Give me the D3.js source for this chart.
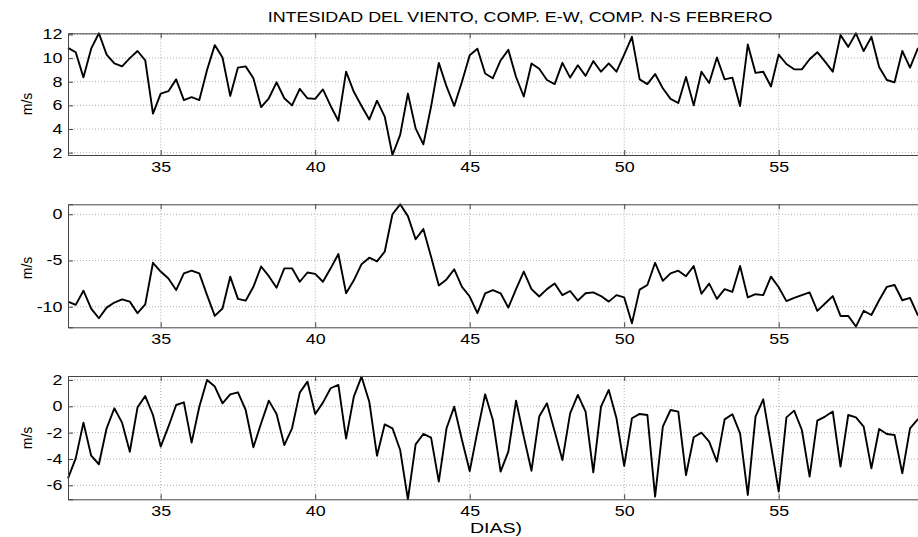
<!DOCTYPE html>
<html>
<head>
<meta charset="utf-8">
<script src="https://cdn.jsdelivr.net/npm/d3@7"></script>
<style>
  body { margin: 0; background: #fff; }
  svg { display: block; font-family: "Liberation Sans", Arial, sans-serif; }
  .grid line { stroke: #b0b0b0; stroke-dasharray: 1,2; }
</style>
</head>
<body>
<svg id="chart" width="918" height="537"></svg>
<script>
// 6-hourly samples from day 32
var t0 = 32, step = 0.25;
var intensidad = [10.87,10.5,8.37,10.8,12.1,10.3,9.55,9.3,10,10.6,9.8,5.3,7.0,7.2,8.2,6.45,6.7,6.45,9.0,11.1,
  10.05,6.8,9.2,9.3,8.3,5.85,6.6,7.95,6.6,6.0,7.4,6.6,6.55,7.35,5.95,4.7,8.85,7.15,5.95,4.8,
  6.4,5.05,1.8,3.5,7.0,4.05,2.7,5.9,9.6,7.6,5.95,8.0,10.25,10.8,8.7,8.3,9.8,10.7,8.4,6.75,
  9.55,9.1,8.15,7.8,9.6,8.35,9.4,8.5,9.75,8.85,9.55,8.85,10.3,11.8,8.2,7.8,8.65,7.45,6.55,6.2,
  8.4,6.0,8.85,7.9,10.05,8.2,8.35,5.95,11.15,8.75,8.85,7.6,10.3,9.5,9.05,9.05,9.9,10.5,9.7,8.85,
  11.95,10.95,12.1,10.6,11.8,9.25,8.15,7.95,10.6,9.2,10.8,11.0];
var compEW = [-9.45,-9.8,-8.27,-10.2,-11.25,-10.1,-9.55,-9.2,-9.45,-10.7,-9.75,-5.25,-6.2,-6.95,-8.2,-6.4,-6.1,-6.4,-8.75,-11.0,
  -10.2,-6.75,-9.15,-9.35,-7.85,-5.65,-6.7,-7.95,-5.85,-5.85,-7.3,-6.3,-6.45,-7.3,-5.85,-4.3,-8.55,-7.15,-5.4,-4.7,
  -5.1,-4.05,0,1.08,-0.2,-2.7,-1.6,-4.6,-7.7,-7.05,-5.95,-7.85,-8.9,-10.7,-8.55,-8.2,-8.55,-10.1,-8.1,-6.2,
  -8.1,-8.9,-8.1,-7.5,-8.75,-8.3,-9.35,-8.55,-8.45,-8.85,-9.45,-8.75,-9.0,-11.8,-8.15,-7.65,-5.25,-7.2,-6.4,-6.1,
  -6.7,-5.6,-8.6,-7.5,-9.15,-8.1,-8.4,-5.6,-9.0,-8.65,-8.75,-6.75,-7.9,-9.4,-9.05,-8.75,-8.45,-10.45,-9.65,-8.85,
  -11.0,-11.0,-12.15,-10.45,-10.9,-9.3,-7.85,-7.65,-9.3,-9.05,-10.9,-11.2];
var compNS = [-5.47,-3.95,-1.24,-3.75,-4.4,-1.67,-0.15,-1.24,-3.45,-0.08,0.78,-0.66,-3.06,-1.55,0.1,0.3,-2.76,-0.03,2.0,1.5,
  0.23,0.91,1.06,-0.28,-3.11,-1.29,0.43,-0.58,-2.94,-1.67,1.04,1.87,-0.58,0.28,1.37,1.62,-2.45,0.73,2.25,0.35,
  -3.75,-1.37,-1.67,-3.32,-7.06,-2.89,-2.1,-2.38,-5.72,-1.67,-0.03,-2.56,-4.91,-1.92,0.91,-1.04,-4.96,-3.44,0.43,-2.3,
  -4.89,-0.78,0.23,-1.92,-4.08,-0.53,0.86,-0.4,-5.01,-0.03,1.24,-0.91,-4.53,-0.91,-0.58,-0.66,-6.86,-1.54,-0.28,-0.4,
  -5.22,-2.35,-2.0,-2.68,-4.2,-0.99,-0.6,-2.05,-6.73,-0.78,0.53,-2.94,-6.48,-0.84,-0.33,-1.8,-5.34,-1.09,-0.78,-0.4,
  -4.58,-0.66,-0.84,-1.54,-4.71,-1.72,-2.1,-2.18,-5.09,-1.67,-0.99,-0.9];
var xTicks = [35, 40, 45, 50, 55];
var yTicks1 = [2, 4, 6, 8, 10, 12];
var yTicks2 = [-10, -5, 0];
var yTicks3 = [-6, -4, -2, 0, 2];

var svg = d3.select("#chart");
var left = 68, right = 933.2;
var stretch = 1.28;   // the original fonts are drawn wider than Arial
var xScale = d3.scaleLinear().domain([32, 60]).range([left, right]);

var panels = [
  {data: intensidad, ticks: yTicks1, domain: [1.8, 12.1], top: 33.3, bottom: 155, labelY: 104},
  {data: compEW, ticks: yTicks2, domain: [-12.23, 1.08], top: 204.3, bottom: 327.3, labelY: 268},
  {data: compNS, ticks: yTicks3, domain: [-7.06, 2.3], top: 376, bottom: 499.3, labelY: 438}
];

panels.forEach(function(p, k) {
  var yScale = d3.scaleLinear().domain(p.domain).range([p.bottom, p.top]);
  var g = svg.append("g");

  // dotted grid
  var grid = g.append("g").attr("class", "grid");
  grid.selectAll("xg").data(xTicks).enter().append("line")
      .attr("x1", function(d) { return xScale(d); })
      .attr("x2", function(d) { return xScale(d); })
      .attr("y1", p.top).attr("y2", p.bottom);
  grid.selectAll("yg").data(p.ticks).enter().append("line")
      .attr("x1", left).attr("x2", right)
      .attr("y1", function(d) { return yScale(d); })
      .attr("y2", function(d) { return yScale(d); });

  // series line
  var line = d3.line()
      .x(function(d, i) { return xScale(t0 + i*step); })
      .y(function(d) { return yScale(d); });
  g.append("path")
      .datum(p.data)
      .attr("d", line)
      .style("fill", "none")
      .style("stroke", "#000")
      .style("stroke-width", 1.9)
      .style("stroke-linejoin", "round");

  // frame with inward ticks on all sides
  g.append("g")
      .attr("transform", "translate(0," + p.bottom + ")")
      .call(d3.axisBottom(xScale).tickValues(xTicks).tickSize(-5).tickPadding(7).tickFormat(function(d) { return String(d); }));
  g.append("g")
      .attr("transform", "translate(0," + p.top + ")")
      .call(d3.axisTop(xScale).tickValues(xTicks).tickSize(-5).tickFormat(""));
  g.append("g")
      .attr("transform", "translate(" + left + ",0)")
      .call(d3.axisLeft(yScale).tickValues(p.ticks).tickSize(-5).tickPadding(5.5/stretch).tickFormat(function(d) { return String(d); }));
  g.append("g")
      .attr("transform", "translate(" + right + ",0)")
      .call(d3.axisRight(yScale).tickValues(p.ticks).tickSize(-5).tickFormat(""));
  g.selectAll(".domain").style("stroke", "#444");
  g.selectAll(".tick line").style("stroke", "#444");
  g.selectAll(".tick text")
      .attr("transform", "scale(" + stretch + ",1)")
      .style("font-family", "Liberation Sans, Arial, sans-serif")
      .style("font-size", "14px")
      .style("fill", "#000");

  g.append("text")
      .attr("transform", "translate(32," + p.labelY + ") rotate(-90)")
      .style("text-anchor", "middle")
      .style("font-size", "14px")
      .text("m/s");
});

svg.append("text")
    .attr("transform", "translate(520,21.7) scale(" + stretch + ",1)")
    .style("text-anchor", "middle")
    .style("font-size", "14px")
    .text("INTESIDAD DEL VIENTO, COMP. E-W, COMP. N-S FEBRERO");
svg.append("text")
    .attr("transform", "translate(496,533) scale(1.4,1)")
    .style("text-anchor", "middle")
    .style("font-size", "14px")
    .text("DIAS)");
</script>
</body>
</html>
